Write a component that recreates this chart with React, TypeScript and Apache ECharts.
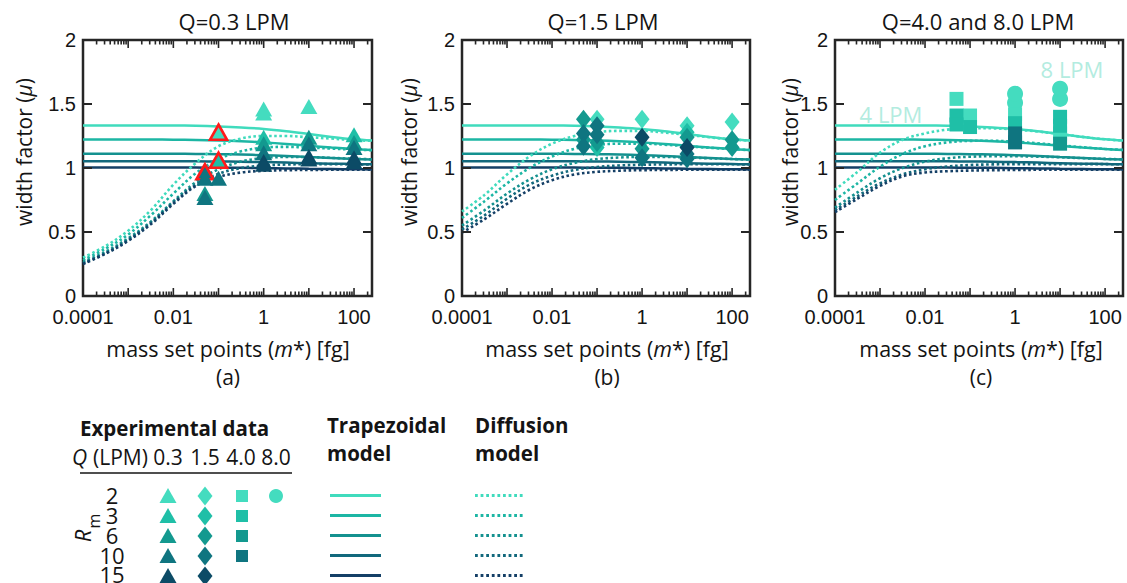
import React, { useEffect, useRef } from 'react';
import * as echarts from 'echarts';

// ---------- data ----------
const rmLabels = ['2', '3', '6', '10', '15'];
const massGrid = [1e-4, 3.16e-4, 1e-3, 3.16e-3, 0.01, 0.0316, 0.1, 0.316, 1, 3.16, 10, 31.6, 100, 250];

// trapezoidal model (same in all panels)
const trapR2 = [1.333, 1.333, 1.333, 1.333, 1.332, 1.330, 1.325, 1.317, 1.305, 1.287, 1.265, 1.243, 1.224, 1.214];
const trapR3 = [1.222, 1.222, 1.222, 1.222, 1.221, 1.219, 1.215, 1.209, 1.200, 1.188, 1.174, 1.160, 1.148, 1.140];
const trapR6 = [1.111, 1.111, 1.111, 1.111, 1.111, 1.110, 1.108, 1.105, 1.100, 1.093, 1.085, 1.078, 1.071, 1.067];
const trapR10 = [1.053, 1.053, 1.053, 1.053, 1.053, 1.052, 1.051, 1.049, 1.046, 1.042, 1.038, 1.034, 1.031, 1.029];
const trapR15 = [1.003, 1.003, 1.003, 1.003, 1.003, 1.003, 1.002, 1.001, 0.999, 0.997, 0.994, 0.992, 0.990, 0.989];

// diffusion model, Q = 0.3 LPM
const diffA_R2 = [0.30, 0.39, 0.51, 0.67, 0.87, 1.04, 1.17, 1.23, 1.25, 1.25, 1.24, 1.23, 1.218, 1.212];
const diffA_R3 = [0.28, 0.37, 0.48, 0.63, 0.80, 0.96, 1.07, 1.13, 1.16, 1.165, 1.16, 1.152, 1.144, 1.139];
const diffA_R6 = [0.265, 0.345, 0.45, 0.58, 0.74, 0.89, 0.99, 1.05, 1.078, 1.086, 1.085, 1.079, 1.072, 1.068];
const diffA_R10 = [0.255, 0.335, 0.44, 0.57, 0.73, 0.87, 0.955, 1.0, 1.02, 1.027, 1.03, 1.03, 1.029, 1.028];
const diffA_R15 = [0.25, 0.33, 0.43, 0.56, 0.72, 0.86, 0.93, 0.965, 0.978, 0.983, 0.985, 0.986, 0.986, 0.986];

// diffusion model, Q = 1.5 LPM
const diffB_R2 = [0.66, 0.79, 0.95, 1.09, 1.19, 1.25, 1.28, 1.29, 1.29, 1.277, 1.26, 1.24, 1.223, 1.214];
const diffB_R3 = [0.61, 0.74, 0.88, 1.0, 1.09, 1.15, 1.18, 1.19, 1.19, 1.182, 1.17, 1.158, 1.147, 1.14];
const diffB_R6 = [0.55, 0.67, 0.80, 0.91, 0.99, 1.04, 1.07, 1.082, 1.087, 1.087, 1.082, 1.076, 1.07, 1.066];
const diffB_R10 = [0.52, 0.63, 0.76, 0.87, 0.94, 0.985, 1.008, 1.02, 1.025, 1.028, 1.029, 1.029, 1.029, 1.028];
const diffB_R15 = [0.495, 0.60, 0.72, 0.83, 0.905, 0.95, 0.97, 0.979, 0.983, 0.985, 0.986, 0.986, 0.986, 0.986];

// diffusion model, Q = 4.0 LPM
const diffC_R2 = [0.83, 0.97, 1.12, 1.22, 1.27, 1.30, 1.31, 1.31, 1.30, 1.285, 1.265, 1.243, 1.224, 1.214];
const diffC_R3 = [0.75, 0.88, 1.01, 1.11, 1.17, 1.20, 1.212, 1.213, 1.205, 1.193, 1.178, 1.162, 1.149, 1.141];
const diffC_R6 = [0.69, 0.81, 0.92, 1.0, 1.05, 1.076, 1.088, 1.092, 1.092, 1.089, 1.084, 1.077, 1.071, 1.067];
const diffC_R10 = [0.67, 0.78, 0.88, 0.95, 0.99, 1.012, 1.023, 1.028, 1.03, 1.03, 1.03, 1.03, 1.03, 1.029];
const diffC_R15 = [0.655, 0.76, 0.86, 0.935, 0.965, 0.975, 0.98, 0.983, 0.985, 0.986, 0.987, 0.987, 0.987, 0.987];

// experimental data: Q = 0.3 LPM (triangles)
const triR2 = [[1, 1.43], [1, 1.46], [10, 1.48]];
const triR3 = [[1, 1.24], [100, 1.26]];
const triR6 = [[0.05, 0.80], [1, 1.19], [10, 1.24], [100, 1.20]];
const triR10 = [[0.05, 0.92], [0.05, 0.77], [0.1, 0.92], [1, 1.12], [10, 1.19], [100, 1.16]];
const triR15 = [[1, 1.05], [1, 1.03], [10, 1.09], [10, 1.07], [100, 1.08], [100, 1.05]];
// flagged points (red outline)
const flagR2 = [[0.1, 1.28]];
const flagR3 = [[0.1, 1.06]];
const flagR10 = [[0.05, 0.97]];

// Q = 1.5 LPM (diamonds)
const diaR2 = [[0.1, 1.38], [1, 1.38], [10, 1.33], [100, 1.36]];
const diaR3 = [[0.1, 1.16], [10, 1.28]];
const diaR6 = [[0.05, 1.38], [0.05, 1.22], [0.1, 1.20], [1, 1.15], [10, 1.24], [100, 1.22], [100, 1.16]];
const diaR10 = [[0.05, 1.27], [0.05, 1.17], [0.1, 1.33], [0.1, 1.26], [1, 1.08], [10, 1.11], [10, 1.07]];
const diaR15 = [[1, 1.24], [10, 1.16]];

// Q = 4.0 LPM (squares)
const sqR2 = [[0.05, 1.54], [0.1, 1.41], [1, 1.42], [10, 1.27]];
const sqR3 = [[0.05, 1.41], [0.05, 1.34], [0.1, 1.32], [1, 1.35], [10, 1.40], [10, 1.33]];
const sqR6 = [[10, 1.19]];
const sqR10 = [[1, 1.27], [1, 1.20]];
// Q = 8.0 LPM (circles)
const circR2 = [[1, 1.51], [1, 1.58], [10, 1.54], [10, 1.62]];

// axis ticks
const xMin = 1e-4;
const xMax = 250;
const decades = [1e-4, 1e-3, 1e-2, 1e-1, 1, 10, 100];
const minorMultipliers = [2, 3, 4, 5, 6, 7, 8, 9];
const yTicks = [0, 0.5, 1, 1.5, 2];
const xLabels: Record<string, string> = { '-4': '0.0001', '-2': '0.01', '0': '1', '2': '100' };

// ---------- style ----------
const markerColors = ['#44dcbf', '#1fbfa7', '#13998f', '#0f7580', '#0c4b66'];
const lineColors = ['#40dbbd', '#1db6a4', '#14918f', '#12687c', '#143f66'];
const axisColor = '#262626';
const textColor = '#141414';
const sans = '"Open Sans", "Noto Sans", sans-serif';
const tickFont = '"Liberation Sans", Arial, sans-serif';

const grids = [
  { left: 83, top: 40, width: 289, height: 256 },
  { left: 462, top: 40, width: 288, height: 256 },
  { left: 835, top: 40, width: 288, height: 256 },
];

const trapAll = [trapR2, trapR3, trapR6, trapR10, trapR15];
const diffPanels = [
  [diffA_R2, diffA_R3, diffA_R6, diffA_R10, diffA_R15],
  [diffB_R2, diffB_R3, diffB_R6, diffB_R10, diffB_R15],
  [diffC_R2, diffC_R3, diffC_R6, diffC_R10, diffC_R15],
];

const xTickData: number[][] = [];
decades.forEach((d) => {
  xTickData.push([d, 1, 8]);
  minorMultipliers.forEach((k) => {
    const v = d * k;
    if (v < xMax) xTickData.push([v, 1, 4.5]);
  });
});

function buildOption() {
  const series: any[] = [];
  for (let p = 0; p < 3; p++) {
    // ticks
    series.push({
      type: 'custom', xAxisIndex: p, yAxisIndex: p, clip: false, silent: true, z: 5,
      data: xTickData,
      renderItem: (params: any, api: any) => {
        const cs = params.coordSys;
        const x = api.coord([api.value(0), 1])[0];
        const len = api.value(2);
        const b = cs.y + cs.height;
        return {
          type: 'group', children: [
            { type: 'line', shape: { x1: x, y1: b, x2: x, y2: b - len }, style: { stroke: axisColor, lineWidth: 1.6 } },
            { type: 'line', shape: { x1: x, y1: cs.y, x2: x, y2: cs.y + len }, style: { stroke: axisColor, lineWidth: 1.6 } },
          ],
        };
      },
    });
    series.push({
      type: 'custom', xAxisIndex: p, yAxisIndex: p, clip: false, silent: true, z: 5,
      data: yTicks.map((v) => [1, v]),
      renderItem: (params: any, api: any) => {
        const cs = params.coordSys;
        const y = api.coord([1, api.value(1)])[1];
        const r = cs.x + cs.width;
        return {
          type: 'group', children: [
            { type: 'line', shape: { x1: cs.x, y1: y, x2: cs.x + 9, y2: y }, style: { stroke: axisColor, lineWidth: 2 } },
            { type: 'line', shape: { x1: r, y1: y, x2: r - 9, y2: y }, style: { stroke: axisColor, lineWidth: 2 } },
          ],
        };
      },
    });
    // model lines
    for (let j = 0; j < 5; j++) {
      series.push({
        type: 'line', xAxisIndex: p, yAxisIndex: p, smooth: 0.35, showSymbol: false, z: 2,
        data: massGrid.map((m, i) => [m, trapAll[j][i]]),
        lineStyle: { color: lineColors[j], width: 2.5 },
      });
    }
    for (let j = 0; j < 5; j++) {
      series.push({
        type: 'line', xAxisIndex: p, yAxisIndex: p, smooth: 0.35, showSymbol: false, z: 2,
        data: massGrid.map((m, i) => [m, diffPanels[p][j][i]]),
        lineStyle: { color: lineColors[j], width: 2.6, type: 'dotted' },
      });
    }
  }
  // flagged triangles (under others)
  [[flagR2, 0], [flagR3, 1], [flagR10, 3]].forEach(([arr, j]: any) => {
    series.push({
      type: 'scatter', xAxisIndex: 0, yAxisIndex: 0, symbol: 'triangle', symbolSize: [17, 15], z: 3,
      data: arr, itemStyle: { color: markerColors[j], borderColor: '#ff1a1a', borderWidth: 2.6, opacity: 1 },
    });
  });
  const tri = [triR2, triR3, triR6, triR10, triR15];
  const dia = [diaR2, diaR3, diaR6, diaR10, diaR15];
  const sq = [sqR2, sqR3, sqR6, sqR10];
  tri.forEach((arr, j) => series.push({
    type: 'scatter', xAxisIndex: 0, yAxisIndex: 0, symbol: 'triangle', symbolSize: [17, 15], z: 3,
    data: arr, itemStyle: { color: markerColors[j], opacity: 1 },
  }));
  dia.forEach((arr, j) => series.push({
    type: 'scatter', xAxisIndex: 1, yAxisIndex: 1, symbol: 'diamond', symbolSize: [15, 19], z: 3,
    data: arr, itemStyle: { color: markerColors[j], opacity: 1 },
  }));
  series.push({
    type: 'scatter', xAxisIndex: 2, yAxisIndex: 2, symbol: 'circle', symbolSize: 16, z: 3,
    data: circR2, itemStyle: { color: markerColors[0], opacity: 1 },
  });
  sq.forEach((arr, j) => series.push({
    type: 'scatter', xAxisIndex: 2, yAxisIndex: 2, symbol: 'rect', symbolSize: 14, z: 3,
    data: arr, itemStyle: { color: markerColors[j], opacity: 1 },
  }));

  const xAxis = grids.map((_, i) => ({
    type: 'log', logBase: 10, gridIndex: i, min: xMin, max: xMax,
    axisLine: { show: false }, axisTick: { show: false }, splitLine: { show: false }, minorTick: { show: false },
    axisLabel: {
      margin: 11, fontSize: 20, fontFamily: tickFont, color: textColor,
      formatter: (v: number) => {
        const l = Math.log10(v);
        const r = Math.round(l);
        if (Math.abs(l - r) > 1e-6) return '';
        return xLabels[String(r)] ?? '';
      },
    },
  }));
  const yAxis = grids.map((_, i) => ({
    type: 'value', gridIndex: i, min: 0, max: 2, interval: 0.5,
    axisLine: { show: false }, axisTick: { show: false }, splitLine: { show: false },
    axisLabel: { margin: 7, fontSize: 20, fontFamily: tickFont, color: textColor },
  }));

  const txt = (text: string, x: number, y: number, extra: any = {}, rotation = 0) => ({
    type: 'text', x, y, rotation, silent: true, z: 10,
    style: { text, fontSize: 20, fontFamily: sans, fill: textColor, align: 'center', verticalAlign: 'middle', ...extra },
  });
  const titles = ['Q=0.3 LPM', 'Q=1.5 LPM', 'Q=4.0 and 8.0 LPM'];
  const titleX = [234, 603, 978];
  const nameX = [228, 607, 981];
  const yNameX = [24, 409, 790];
  const letters = ['(a)', '(b)', '(c)'];
  const graphic: any[] = [];
  for (let i = 0; i < 3; i++) {
    graphic.push(txt(titles[i], titleX[i], 21, { fontSize: 22 }));
    graphic.push({
      type: 'text', x: nameX[i], y: 348, silent: true,
      style: {
        text: '{n|mass set points (}{i|m}{n|*) [fg]}', align: 'center', verticalAlign: 'middle',
        rich: {
          n: { fontSize: 21.5, fontFamily: sans, fill: textColor },
          i: { fontSize: 21.5, fontFamily: sans, fill: textColor, fontStyle: 'italic' },
        },
      },
    });
    graphic.push(txt(letters[i], nameX[i], 377, { fontSize: 21 }));
    graphic.push({
      type: 'text', x: yNameX[i], y: 152, rotation: Math.PI / 2, silent: true,
      style: {
        text: '{n|width factor (}{i|μ}{n|)}', align: 'center', verticalAlign: 'middle',
        rich: {
          n: { fontSize: 21, fontFamily: sans, fill: textColor },
          i: { fontSize: 21, fontFamily: sans, fill: textColor, fontStyle: 'italic' },
        },
      },
    });
  }
  graphic.push(txt('4 LPM', 891, 114, { fontSize: 22, fill: '#b3ece0' }));
  graphic.push(txt('8 LPM', 1072, 69, { fontSize: 22, fill: '#b3ece0' }));

  // legend
  graphic.push(txt('Experimental data', 80, 428, { fontWeight: 'bold', align: 'left', fontSize: 20.5 }));
  graphic.push(txt('Q', 72, 457, { fontStyle: 'italic', align: 'left', fontSize: 21 }));
  graphic.push(txt('(LPM)', 93, 457, { align: 'left', fontSize: 21 }));
  const qLabels = ['0.3', '1.5', '4.0', '8.0'];
  const colX = [168, 205, 241, 276];
  qLabels.forEach((q, k) => graphic.push(txt(q, colX[k], 457, { fontSize: 21 })));
  graphic.push({ type: 'line', shape: { x1: 80, y1: 473, x2: 292, y2: 473 }, style: { stroke: textColor, lineWidth: 1.5 } });
  const rowY = [496, 516, 536, 556, 576];
  const rowLabelY = [495, 515, 535, 555, 574];
  rmLabels.forEach((r, k) => graphic.push(txt(r, 112, rowLabelY[k], { fontSize: 22, lineHeight: 18 })));
  graphic.push(txt('R', 82, 536, { fontStyle: 'italic', fontSize: 22 }, Math.PI / 2));
  graphic.push(txt('m', 94, 521, { fontSize: 16 }, Math.PI / 2));
  rowY.forEach((y, k) => {
    const c = markerColors[k];
    graphic.push({ type: 'polygon', shape: { points: [[168, y - 8], [159.5, y + 7], [176.5, y + 7]] }, style: { fill: c } });
    graphic.push({ type: 'polygon', shape: { points: [[205, y - 9.5], [212.5, y], [205, y + 9.5], [197.5, y]] }, style: { fill: c } });
    if (k < 4) graphic.push({ type: 'rect', shape: { x: 236, y: y - 6, width: 12, height: 12 }, style: { fill: c } });
    graphic.push({ type: 'line', shape: { x1: 330, y1: y - 0.5, x2: 381, y2: y - 0.5 }, style: { stroke: lineColors[k], lineWidth: 3 } });
    graphic.push({ type: 'line', shape: { x1: 475, y1: y - 0.5, x2: 525, y2: y - 0.5 }, style: { stroke: lineColors[k], lineWidth: 2.8, lineDash: [2.8, 2.8] } });
  });
  graphic.push({ type: 'circle', shape: { cx: 276, cy: 496, r: 7 }, style: { fill: markerColors[0] } });
  graphic.push(txt('Trapezoidal', 327, 425, { fontWeight: 'bold', align: 'left', fontSize: 20.5 }));
  graphic.push(txt('model', 327, 453, { fontWeight: 'bold', align: 'left', fontSize: 20.5 }));
  graphic.push(txt('Diffusion', 475, 425, { fontWeight: 'bold', align: 'left', fontSize: 20.5 }));
  graphic.push(txt('model', 475, 453, { fontWeight: 'bold', align: 'left', fontSize: 20.5 }));

  return {
    animation: false,
    backgroundColor: '#ffffff',
    grid: grids.map((g) => ({ ...g, show: true, borderColor: axisColor, borderWidth: 2.5, backgroundColor: 'transparent' })),
    xAxis, yAxis, series, graphic,
  };
}

export default function App() {
  const ref = useRef<HTMLDivElement>(null);
  useEffect(() => {
    const chart = echarts.init(ref.current!, null, { renderer: 'svg' });
    chart.setOption(buildOption() as any);
    return () => chart.dispose();
  }, []);
  return <div ref={ref} style={{ position: 'fixed', left: 0, top: 0, width: 1127, height: 583, background: '#fff' }} />;
}
